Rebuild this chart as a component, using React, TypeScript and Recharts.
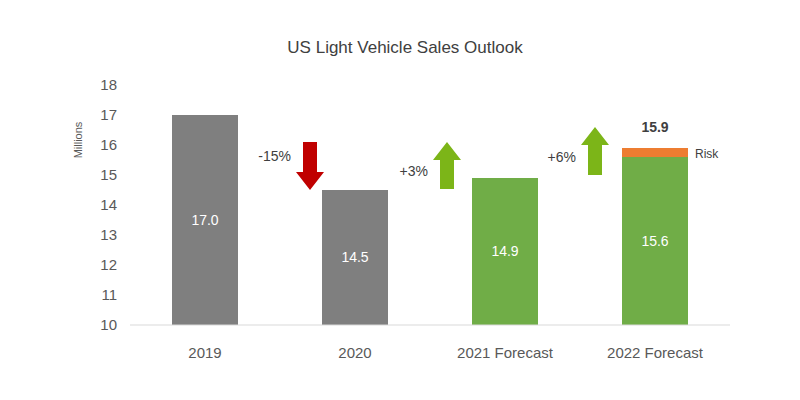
import React from "react";
import { Bar, BarChart, Cell, LabelList, XAxis, YAxis } from "recharts";

const categories = ["2019", "2020", "2021 Forecast", "2022 Forecast"];
const sales = [17.0, 14.5, 14.9, 15.6];
const risk = [0, 0, 0, 0.3];
const changes = ["", "-15%", "+3%", "+6%"];
const yTicks = [10, 11, 12, 13, 14, 15, 16, 17, 18];

const GRAY = "#7f7f7f";
const GREEN = "#70ad47";
const ORANGE = "#ed7d31";
const RED = "#c00000";
const ARROW_GREEN = "#7cb518";
const TEXT = "#595959";

const barColors = [GRAY, GRAY, GREEN, GREEN];

const data = categories.map((name, i) => ({
  name,
  sales: sales[i],
  risk: risk[i],
  change: changes[i],
  riskTotal: risk[i] ? (sales[i] + risk[i]).toFixed(1) : "",
}));

// arrow offset from bar's left edge and vertical placement per category
const arrowLayout: Record<number, { dx: number; top: number; bottom: number; textY: number }> = {
  1: { dx: -12, top: 142, bottom: 190, textY: 157 },
  2: { dx: -25, top: 142, bottom: 189, textY: 172 },
  3: { dx: -27, top: 127, bottom: 175, textY: 158 },
};

function box(props: any) {
  const vb = props.viewBox && props.viewBox.width != null ? props.viewBox : props;
  return { x: vb.x, y: vb.y, width: vb.width, height: vb.height };
}

function ChangeArrow(props: any) {
  const { index, value } = props;
  if (!value) return null;
  const { x } = box(props);
  const lay = arrowLayout[index];
  if (!lay) return null;
  const cx = x + lay.dx;
  const down = value.startsWith("-");
  const shaft = 7;
  const head = 14;
  const headH = 18;
  let pts: number[][];
  if (down) {
    const hy = lay.bottom - headH;
    pts = [
      [cx - shaft, lay.top],
      [cx + shaft, lay.top],
      [cx + shaft, hy],
      [cx + head, hy],
      [cx, lay.bottom],
      [cx - head, hy],
      [cx - shaft, hy],
    ];
  } else {
    const hy = lay.top + headH;
    pts = [
      [cx, lay.top],
      [cx + head, hy],
      [cx + shaft, hy],
      [cx + shaft, lay.bottom],
      [cx - shaft, lay.bottom],
      [cx - shaft, hy],
      [cx - head, hy],
    ];
  }
  return (
    <g>
      <polygon points={pts.map((p) => p.join(",")).join(" ")} fill={down ? RED : ARROW_GREEN} />
      <text
        x={cx - 19}
        y={lay.textY}
        textAnchor="end"
        dominantBaseline="middle"
        fontSize={14}
        fill="#404040"
      >
        {value}
      </text>
    </g>
  );
}

function RiskLabel(props: any) {
  const { value } = props;
  if (!value) return null;
  const { x, y, width, height } = box(props);
  return (
    <g>
      <text
        x={x + width / 2}
        y={y - 20}
        textAnchor="middle"
        dominantBaseline="middle"
        fontSize={14}
        fontWeight="bold"
        fill="#404040"
      >
        {value}
      </text>
      <text
        x={x + width + 7}
        y={y + height / 2 + 2}
        dominantBaseline="middle"
        fontSize={12}
        fill="#404040"
      >
        Risk
      </text>
    </g>
  );
}

export default function App() {
  return (
    <div
      style={{
        position: "relative",
        width: 800,
        height: 400,
        fontFamily: "'Liberation Sans', Arial, sans-serif",
        background: "#fff",
      }}
    >
      <style>{`body{margin:0}`}</style>
      <div
        style={{
          position: "absolute",
          top: 38,
          left: 0,
          width: 810,
          textAlign: "center",
          fontSize: 17,
          color: "#404040",
        }}
      >
        US Light Vehicle Sales Outlook
      </div>
      <div
        style={{
          position: "absolute",
          left: 78,
          top: 140,
          transform: "translate(-50%, -50%) rotate(-90deg)",
          fontSize: 11,
          color: TEXT,
          whiteSpace: "nowrap",
        }}
      >
        Millions
      </div>
      <BarChart
        width={800}
        height={400}
        data={data}
        margin={{ top: 85, right: 70, bottom: 45, left: 80 }}
        barCategoryGap="28%"
        style={{ fontFamily: "'Liberation Sans', Arial, sans-serif" }}
      >
        <XAxis
          dataKey="name"
          axisLine={{ stroke: "#d9d9d9" }}
          tickLine={false}
          tick={{ fill: TEXT, fontSize: 15 }}
          tickMargin={16}
          height={30}
        />
        <YAxis
          domain={[10, 18]}
          ticks={yTicks}
          allowDataOverflow
          axisLine={false}
          tickLine={false}
          tick={{ fill: TEXT, fontSize: 15 }}
          tickSize={0}
          tickMargin={13}
          width={50}
        />
        <Bar dataKey="sales" stackId="a" isAnimationActive={false}>
          {data.map((d, i) => (
            <Cell key={d.name} fill={barColors[i]} />
          ))}
          <LabelList
            dataKey="sales"
            position="center"
            fill="#fff"
            fontSize={14}
            formatter={(v: any) => Number(v).toFixed(1)}
          />
          <LabelList dataKey="change" content={ChangeArrow} />
        </Bar>
        <Bar dataKey="risk" stackId="a" fill={ORANGE} isAnimationActive={false}>
          <LabelList dataKey="riskTotal" content={RiskLabel} />
        </Bar>
      </BarChart>
    </div>
  );
}
